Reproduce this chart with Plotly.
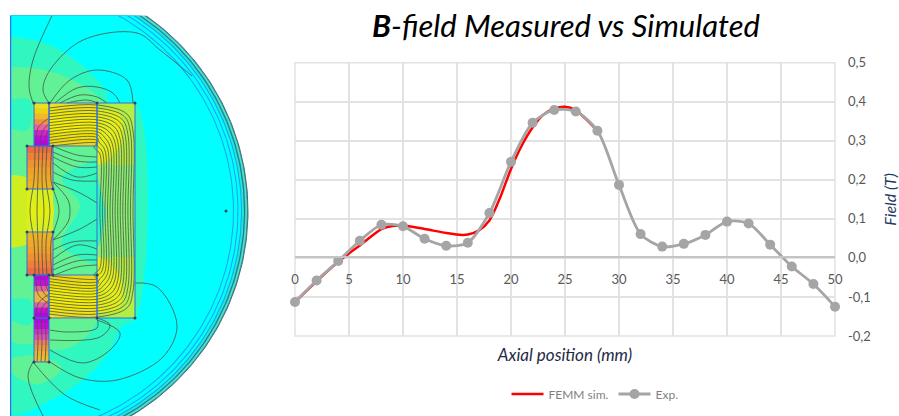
import numpy as np
import plotly.graph_objects as go

# ---- chart data ----
exp_x = [0, 2, 4, 6, 8, 10, 12, 14, 16, 18, 20, 22, 24, 26, 28, 30, 32, 34, 36, 38, 40, 42, 44, 46, 48, 50]
exp_y = [-0.113, -0.058, -0.008, 0.044, 0.085, 0.081, 0.049, 0.031, 0.039, 0.115, 0.246, 0.346, 0.379, 0.375,
         0.326, 0.187, 0.061, 0.029, 0.036, 0.059, 0.093, 0.088, 0.034, -0.022, -0.067, -0.125]
sim_x = [0, 2, 4, 6, 8, 9, 10, 12, 14, 15.5, 16, 17, 18, 19, 20, 21, 22, 23, 24, 25, 26, 28]
sim_y = [-0.113, -0.06, -0.01, 0.032, 0.074, 0.082, 0.083, 0.074, 0.064, 0.059, 0.06, 0.07, 0.096, 0.155,
         0.228, 0.288, 0.334, 0.367, 0.382, 0.387, 0.378, 0.326]
x_ticks = [0, 5, 10, 15, 20, 25, 30, 35, 40, 45, 50]
y_ticks = [-0.2, -0.1, 0.0, 0.1, 0.2, 0.3, 0.4, 0.5]
y_labels = ["-0,2", "-0,1", "0,0", "0,1", "0,2", "0,3", "0,4", "0,5"]

W, H = 899, 416
FONT = "Lato, 'Open Sans', sans-serif"
GRID = "#e2e2e2"
fig = go.Figure()


# ---- FEMM field map illustration (picture axes) ----
def art(xs, ys, fill=None, line=None, width=1.0, spline=False):
    fig.add_trace(go.Scatter(
        x=xs, y=ys, mode="lines", xaxis="x2", yaxis="y2", showlegend=False, hoverinfo="skip",
        fill="toself" if fill else None, fillcolor=fill,
        line=dict(color=line or "rgba(0,0,0,0)", width=width if line else 0,
                  shape="spline" if spline else "linear", smoothing=1.0)))


def blob(points, fill):
    art([p[0] for p in points], [p[1] for p in points], fill=fill, spline=True)


def disc(r, fill=None, line=None, width=1.0):
    t = np.linspace(-np.pi / 2, np.pi / 2, 160)
    art(list(10 + r * np.cos(t)), list(211 + r * np.sin(t)), fill=fill, line=line, width=width)


def grad(x0, x1, y0, y1, stops):
    n = len(stops)
    h = (y1 - y0) / n
    for i, c in enumerate(stops):
        art([x0, x1, x1, x0, x0], [y0 + i * h, y0 + i * h, y0 + (i + 1) * h + 0.4, y0 + (i + 1) * h + 0.4, y0 + i * h], fill=c)


def rect(x0, x1, y0, y1, color="#2f6fe0", width=1.0):
    art([x0, x1, x1, x0, x0], [y0, y0, y1, y1, y0], line=color, width=width)


CY = "#00ffff"
for r, c in [(238, "#1e9ee8"), (237, "#55e8a8"), (235.5, "#12b0f0"), (234, "#22e8d0"), (232, "#1aa0f0"),
             (231, CY), (228.5, "#1aa0f0"), (227.5, CY), (224, "#1aa0f0"), (223, CY)]:
    disc(r, fill=c)
disc(238, line="#4a6a6a", width=1)
disc(234.5, line="#3a5a5a", width=0.7)

G1, G2 = "#30f6c0", "#62f296"
blob([(10, 36), (50, 45), (85, 68), (105, 90), (110, 103), (136, 104), (136, 318), (122, 326), (110, 350), (92, 372),
      (55, 398), (10, 413), (10, 300), (10, 120)], G1)
blob([(10, 67), (45, 70), (80, 84), (103, 103), (106, 150), (62, 178), (80, 205), (62, 245), (106, 275), (92, 330), (62, 350),
      (40, 345), (10, 340), (10, 300), (10, 210), (10, 110)], G2)
blob([(10, 100), (30, 100), (28, 130), (10, 128)], G1)
blob([(10, 300), (30, 300), (30, 325), (10, 320)], G1)
art([97, 135, 135, 97, 97], [103, 103, 318, 318, 103], fill="#8cf070")
art([97, 135, 135, 97, 97], [103, 103, 165, 165, 103], fill="#b4ee44")
art([97, 135, 135, 97, 97], [257, 257, 318, 318, 257], fill="#b4ee44")
blob([(97, 110), (118, 112), (122, 140), (108, 160), (97, 165)], "#e4ee18")
blob([(97, 312), (118, 310), (122, 282), (108, 262), (97, 257)], "#e4ee18")
blob([(97, 175), (83, 195), (82, 225), (97, 247), (106, 211)], G1)
blob([(10, 358), (40, 356), (62, 368), (40, 384), (22, 380), (10, 372)], G2)
blob([(10, 175), (28, 178), (50, 195), (54, 211), (50, 228), (28, 244), (10, 248)], "#cfee22")

ramp_top = ["#e8e020", "#f0d010", "#f0b828", "#ee9040", "#e860a0", "#d820c8", "#c808e0", "#c000e8"]
grad(34, 49, 103, 146, ramp_top)
grad(34, 49, 275, 297, ["#c000e8", "#c810d8", "#e060a0", "#eeb040"])
grad(34, 49, 297, 318, ["#eeb040", "#e060a0", "#c810d8", "#c000e8"])
grad(34, 49, 318, 362, ["#c000e8", "#c808e0", "#d030c8", "#e050b0", "#ea8060", "#ee9a40", "#eeb030", "#e8c030"])
grad(49, 97, 103, 146, ["#f2e018", "#f6e800", "#f8ee00", "#f8f000", "#f4e400", "#f0d810"])
grad(49, 97, 275, 318, ["#f0d810", "#f4e400", "#f8f000", "#f8ee00", "#f6e800", "#f2e018"])
grad(27, 53, 146, 189, ["#ee6a40", "#f08038", "#f09030", "#f0a028", "#f0a828", "#f0b020"])
grad(27, 53, 232, 275, ["#f0b020", "#f0a828", "#f0a028", "#f09030", "#f08038", "#ee6a40"])
grad(27, 53, 189, 232, ["#d8ee20", "#e0ee18", "#e4ee10", "#e0ee18", "#d8ee20"])

# flux lines
FL = "#46544a"


def mirror(pts):
    return [(x, 422 - y) for x, y in pts]


def flux(pts, width=0.8):
    art([p[0] for p in pts], [p[1] for p in pts], line=FL, width=width, spline=True)


outer_top = [
    [(52, 15.7), (33, 60), (29, 87), (33, 103)],
    [(49, 103), (43, 90), (50, 70), (83, 40), (137, 33), (160, 50), (192, 76)],
    [(50, 103), (70, 80), (97, 70), (127, 80), (133, 103)],
    [(55, 103), (77, 88), (97, 87), (113, 93), (120, 103)],
    [(60, 103), (80, 95), (97, 97), (107, 103)],
    [(67, 103), (87, 100), (98, 103)],
]
for p in outer_top:
    flux(p)

gap_top = [
    [(55, 147), (77, 155), (97, 157)],
    [(53, 152), (77, 161), (97, 162)],
    [(53, 157), (77, 167), (97, 167)],
    [(53, 163), (77, 177), (97, 173)],
    [(53, 172), (72, 180), (97, 181)],
    [(53, 182), (80, 193), (97, 203)],
]
for p in gap_top:
    flux(p)
    flux(mirror(p))

for bottom in [
    [(135, 283), (157, 287), (177, 325), (163, 357), (117, 380), (80, 378), (50, 362)],
    [(97, 320), (120, 333), (110, 350), (83, 363), (50, 350)],
    [(97, 318), (110, 325), (100, 337), (50, 340)],
    [(97, 318), (97, 328), (67, 332), (50, 330)],
    [(33, 362), (65, 395), (100, 410)],
    [(33, 362), (28, 377), (43, 416)],
]:
    flux(bottom)

for i in range(14):
    ty = 105 + i * 2.95
    by = 422 - ty
    xo = 133 - i * 2.55
    bend = 26 - i * 1.2
    flux([(49, ty + 3), (97, ty), (xo - 6, ty + bend * 0.35), (xo, ty + bend), (xo, 211), (xo, by - bend),
          (xo - 6, by - bend * 0.35), (97, by), (49, by - 3)])

for top, mid in [(35, 30), (39, 37), (43, 44), (47, 50), (52, 59)]:
    flux([(top, 146), (top - 1, 180), (mid, 211), (top - 1, 242), (top, 276)])
flux([(53, 182), (68, 200), (70, 211), (68, 222), (53, 240)])

for off in [0, 4, 8]:
    a = [(36 + off, 145), (38 + off, 128 + off), (49, 118 + off * 1.4)]
    flux(a)
    flux(mirror(a))
    b = [(36 + off, 318), (38 + off, 304 + off), (49, 294 + off * 1.4)]
    flux(b)
for x_line in [37, 41, 45]:
    flux([(x_line, 320), (x_line + 1, 340), (x_line, 362)])

# outlines and nodes
for r0 in [(34, 49, 103, 146), (49, 97, 103, 146), (97, 135, 103, 318), (27, 53, 146, 189), (27, 53, 232, 275),
            (34, 49, 275, 318), (49, 97, 275, 318), (34, 49, 318, 362)]:
    rect(*r0)
art([10.5, 10.5], [15.7, 416], line="#1e78f0", width=1.5)
fig.add_trace(go.Scatter(
    x=[34, 49, 97, 135, 27, 53, 27, 53, 27, 53, 27, 53, 34, 49, 97, 34, 49, 97, 135, 34, 49, 226],
    y=[103, 103, 103, 103, 146, 146, 189, 189, 232, 232, 275, 275, 275, 275, 275, 318, 318, 318, 318, 362, 362, 211],
    mode="markers", xaxis="x2", yaxis="y2", showlegend=False, hoverinfo="skip",
    marker=dict(size=3, color="#33405a")))

# ---- chart traces ----
fig.add_trace(go.Scatter(x=sim_x, y=sim_y, name="FEMM sim.", mode="lines", cliponaxis=False,
                         line=dict(color="#ff0000", width=2.5, shape="spline", smoothing=0.8)))
fig.add_trace(go.Scatter(x=exp_x, y=exp_y, name="Exp.", mode="lines+markers", cliponaxis=False,
                         line=dict(color="#a5a5a5", width=2.8, shape="spline", smoothing=0.8),
                         marker=dict(size=10, color="#a5a5a5")))

fig.update_layout(
    width=W, height=H, margin=dict(l=0, r=0, t=0, b=0, autoexpand=False), autosize=False,
    paper_bgcolor="white", plot_bgcolor="white", font=dict(family=FONT, color="#595959", size=13),
    hovermode=False,
    title=dict(text="<b><i>B</i></b><i>-field Measured vs Simulated</i>", x=566 / W, xanchor="center",
               y=1 - 26 / H, yanchor="middle", font=dict(family=FONT, size=31, color="#000000")),
    xaxis=dict(domain=[295 / W, 835 / W], range=[0, 50], anchor="free", position=(H - 257.3) / H,
               tickvals=x_ticks, ticks="", showgrid=True, gridcolor=GRID, gridwidth=1.5,
               showline=True, linecolor="#c4c4c4", linewidth=1.5, zeroline=False, ticklabelstandoff=10,
               tickfont=dict(size=13, color="#595959"),
               title=dict(text="<i>Axial position (mm)</i>", standoff=62, font=dict(size=17, color="#1f2a44"))),
    yaxis=dict(domain=[(H - 336) / H, (H - 62.7) / H], range=[-0.2, 0.5], side="right", tickvals=y_ticks, ticktext=y_labels,
               showgrid=True, gridcolor=GRID, gridwidth=1.5, zeroline=False, ticks="", ticklabelstandoff=12,
               anchor="x", showline=False, tickfont=dict(size=13, color="#595959"),
               title=dict(text="<i>Field (T)</i>", standoff=16, font=dict(size=16, color="#1f3864"))),
    xaxis2=dict(domain=[10 / W, 260 / W], range=[10, 260], visible=False, anchor="y2", fixedrange=True),
    yaxis2=dict(domain=[0, (H - 15.7) / H], range=[416, 15.7], visible=False, anchor="x2", fixedrange=True),
    legend=dict(orientation="h", x=595 / W, xanchor="center", y=1 - 394 / H, yanchor="middle",
                font=dict(size=12, color="#7f7f7f"), itemwidth=32, bgcolor="rgba(0,0,0,0)", traceorder="normal"),
    shapes=[dict(type="rect", xref="x domain", yref="y domain", x0=0, x1=1, y0=0, y1=1,
                 line=dict(color=GRID, width=1.5), layer="below")],
)

fig.write_html("out.html", config={"displayModeBar": False},
               post_script="document.body.style.margin='0';document.body.style.overflow='hidden';")
